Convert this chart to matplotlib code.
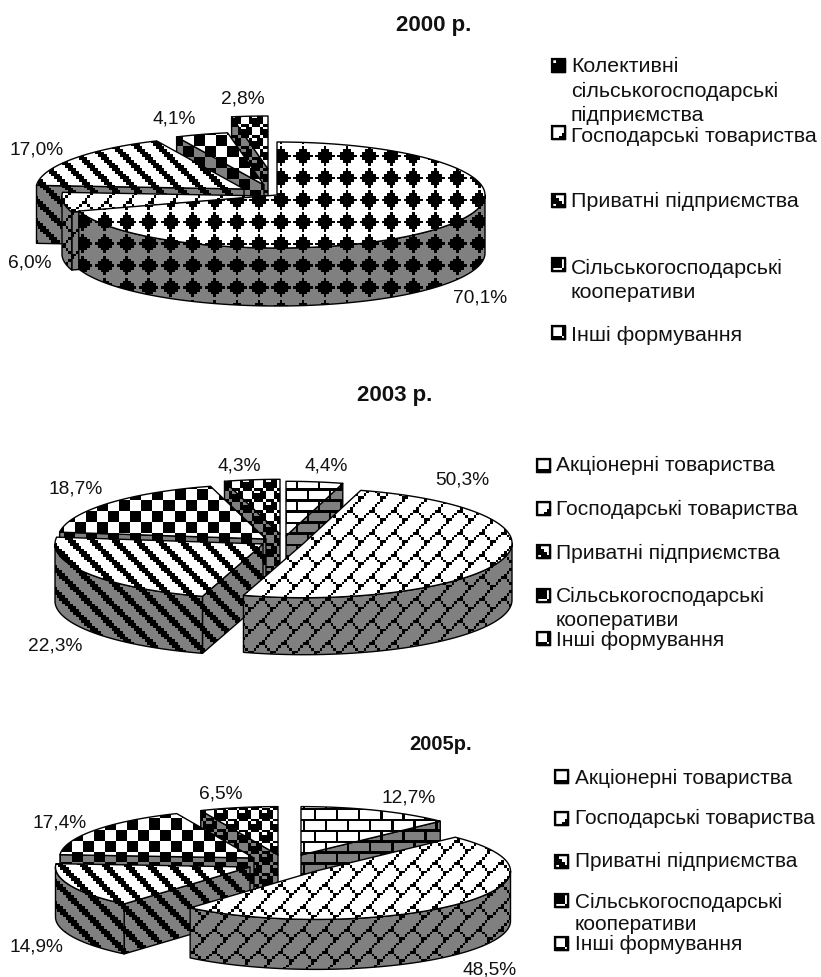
import numpy as np
import matplotlib
matplotlib.use("Agg")
import matplotlib.pyplot as plt
from matplotlib.patches import Polygon

# =========================================================
# DATA
# =========================================================

VALUES_2000 = [70.1, 6.0, 17.0, 4.1, 2.8]
VALUES_2003 = [4.4, 50.3, 22.3, 18.7, 4.3]
VALUES_2005 = [12.7, 48.5, 14.9, 17.4, 6.5]

TITLES = ["2000 р.", "2003 р.", "2005р."]

LEGEND_2000 = ["Колективні\nсільськогосподарські\nпідприємства",
               "Господарські товариства",
               "Приватні підприємства",
               "Сільськогосподарські\nкооперативи",
               "Інші формування"]
LEGEND_2003 = ["Акціонерні товариства",
               "Господарські товариства",
               "Приватні підприємства",
               "Сільськогосподарські\nкооперативи",
               "Інші формування"]
LEGEND_2005 = LEGEND_2003

# =========================================================
# CONFIG
# =========================================================

W, H = 821, 978
FONT = "Liberation Sans"
BIT = 2.75
GREY = "#808080"

# 8x8 brush bitmaps, one byte per row
BRUSHES = {
    "diamond": [0x10, 0x38, 0x7C, 0xFE, 0x7C, 0x38, 0x10, 0x00],
    "dbrick": [0x01, 0x02, 0x04, 0x08, 0x18, 0x24, 0x42, 0x81],
    "wdiag": [0x83, 0xC1, 0xE0, 0x70, 0x38, 0x1C, 0x0E, 0x07],
    "checker": [0xF0, 0xF0, 0xF0, 0xF0, 0x0F, 0x0F, 0x0F, 0x0F],
    "sphere": [0x77, 0x89, 0x8F, 0x8F, 0x77, 0x98, 0xF8, 0xF8],
    "brick": [0xFF, 0x80, 0x80, 0x80, 0xFF, 0x08, 0x08, 0x08],
}

PIES = [
    {"values": VALUES_2000, "center": (277, 196), "rx": 208, "ry": 53, "depth": 58,
     "brushes": ["diamond", "dbrick", "wdiag", "checker", "sphere"],
     "offsets": [(0, 0), (-7, 1), (-33, -6), (-13, -10), (-9, -26)],
     "order": [4, 3, 2, 1, 0], "phase": (7.4, 15.4),
     "labels": [(480, 298), (30, 263), (37, 150), (174, 119), (243, 99)]},
    {"values": VALUES_2003, "center": (304, 544), "rx": 208, "ry": 54.7, "depth": 57,
     "brushes": ["brick", "dbrick", "wdiag", "checker", "sphere"],
     "offsets": [(-18, -7), (0, 0), (-41, 1), (-38, -4), (-24, -9)],
     "order": [4, 0, 3, 2, 1], "phase": (9.3, 16.6),
     "labels": [(326, 466), (462, 480), (55, 646), (76, 489), (239, 466)]},
    {"values": VALUES_2005, "center": (316, 872), "rx": 194.5, "ry": 48.4, "depth": 50,
     "brushes": ["brick", "dbrick", "wdiag", "checker", "sphere"],
     "offsets": [(-15, -16), (0, 0), (-66, -4), (-62, -13), (-38, -16)],
     "order": [4, 0, 3, 2, 1], "phase": (5.6, 16.6),
     "labels": [(409, 798), (490, 970), (36, 947), (60, 823), (221, 794)]},
]

LEGENDS = [
    {"labels": LEGEND_2000, "key_x": 552, "text_x": 571, "size": 15.4, "gap": 24,
     "key_y": [66, 133, 201, 265, 333], "text_y": [67, 136, 201, 268, 335],
     "brushes": PIES[0]["brushes"]},
    {"labels": LEGEND_2003, "key_x": 537, "text_x": 556, "size": 15.1, "gap": 25,
     "key_y": [466, 509, 552, 596, 639], "text_y": [465, 509, 553, 596, 640],
     "brushes": PIES[1]["brushes"]},
    {"labels": LEGEND_2005, "key_x": 555, "text_x": 575, "size": 15.0, "gap": 23,
     "key_y": [777, 819, 862, 901, 944], "text_y": [778, 818, 861, 902, 944],
     "brushes": PIES[2]["brushes"]},
]

TITLE_POS = [(434, 26, 16), (395, 395, 16), (441, 744, 14.5)]
KEY_SIZE = 13

# =========================================================
# DRAWING HELPERS
# =========================================================

def fill_brush(ax, pts, brush, background, phase):
    pts = np.array(pts)
    poly = Polygon(pts, closed=True, facecolor="none", edgecolor="none")
    ax.add_patch(poly)
    i0 = int(np.floor((pts[:, 0].min() - phase[0]) / BIT)) - 1
    i1 = int(np.ceil((pts[:, 0].max() - phase[0]) / BIT)) + 1
    j0 = int(np.floor((pts[:, 1].min() - phase[1]) / BIT)) - 1
    j1 = int(np.ceil((pts[:, 1].max() - phase[1]) / BIT)) + 1
    rows = BRUSHES[brush]
    bits = np.array([[(rows[j % 8] >> (7 - i % 8)) & 1 for i in range(i0, i1)]
                     for j in range(j0, j1)])
    bg = np.array(matplotlib.colors.to_rgb(background))
    img = np.where(bits[..., None] == 1, np.zeros(3), bg)
    extent = (phase[0] + i0 * BIT, phase[0] + i1 * BIT,
              phase[1] + j1 * BIT, phase[1] + j0 * BIT)
    im = ax.imshow(img, extent=extent, interpolation="nearest", aspect="auto",
                   origin="upper", zorder=ax.next_z)
    im.set_clip_path(poly)
    ax.add_patch(Polygon(pts, closed=True, facecolor="none", edgecolor="black",
                         linewidth=1.0, joinstyle="round", zorder=ax.next_z + 0.5))
    ax.next_z += 1


def rim_point(c, rx, ry, theta):
    return (c[0] + rx * np.sin(theta), c[1] - ry * np.cos(theta))


def arc(c, rx, ry, a, b):
    n = max(2, int(abs(b - a) * 60))
    return [rim_point(c, rx, ry, t) for t in np.linspace(a, b, n)]


def draw_slice(ax, c, rx, ry, depth, a, b, brush, phase):
    down = lambda p: (p[0], p[1] + depth)

    # cut faces, only those that look towards the viewer
    if np.sin(a) < -1e-6:
        p = rim_point(c, rx, ry, a)
        fill_brush(ax, [c, p, down(p), down(c)], brush, GREY, phase)
    if np.sin(b) > 1e-6:
        p = rim_point(c, rx, ry, b)
        fill_brush(ax, [c, p, down(p), down(c)], brush, GREY, phase)

    # outer wall
    lo = max(a, np.pi / 2)
    hi = min(b, 3 * np.pi / 2)
    if hi > lo:
        top = arc(c, rx, ry, lo, hi)
        fill_brush(ax, top + [down(p) for p in top[::-1]], brush, GREY, phase)

    fill_brush(ax, [c] + arc(c, rx, ry, a, b), brush, "white", phase)


def draw_pie(ax, pie):
    edges = np.concatenate([[0], np.cumsum(pie["values"])]) / 100 * 2 * np.pi
    for k in pie["order"]:
        c = (pie["center"][0] + pie["offsets"][k][0], pie["center"][1] + pie["offsets"][k][1])
        draw_slice(ax, c, pie["rx"], pie["ry"], pie["depth"], edges[k], edges[k + 1],
                   pie["brushes"][k], pie["phase"])
    for value, (x, y) in zip(pie["values"], pie["labels"]):
        ax.text(x, y, f"{value:.1f}%".replace(".", ","), ha="center", va="center",
                family=FONT, fontsize=13.8, color="#111111")


def draw_legend(ax, legend):
    for label, brush, ky, ty in zip(legend["labels"], legend["brushes"],
                                    legend["key_y"], legend["text_y"]):
        x0, y0 = legend["key_x"], ky - KEY_SIZE / 2
        square = [(x0, y0), (x0 + KEY_SIZE, y0), (x0 + KEY_SIZE, y0 + KEY_SIZE), (x0, y0 + KEY_SIZE)]
        fill_brush(ax, square, brush, "white", (x0 - 1, y0 - 1))
        ax.add_patch(Polygon(square, closed=True, facecolor="none", edgecolor="black",
                             linewidth=1.6, zorder=ax.next_z))
        ax.next_z += 1
        for n, line in enumerate(label.split("\n")):
            ax.text(legend["text_x"], ty + n * legend["gap"], line, ha="left", va="center",
                    family=FONT, fontsize=legend["size"], color="#111111",
                    zorder=ax.next_z)

# =========================================================
# MAIN
# =========================================================

fig = plt.figure(figsize=(W / 100, H / 100), dpi=100)
ax = fig.add_axes([0, 0, 1, 1])
ax.set_xlim(0, W)
ax.set_ylim(H, 0)
ax.autoscale(False)
ax.axis("off")
ax.next_z = 1

for pie in PIES:
    draw_pie(ax, pie)

for legend in LEGENDS:
    draw_legend(ax, legend)

for title, (x, y, size) in zip(TITLES, TITLE_POS):
    ax.text(x, y, title, ha="center", va="center", family=FONT, fontsize=size,
            fontweight="bold", color="#111111")

fig.savefig("out.png", dpi=100)
